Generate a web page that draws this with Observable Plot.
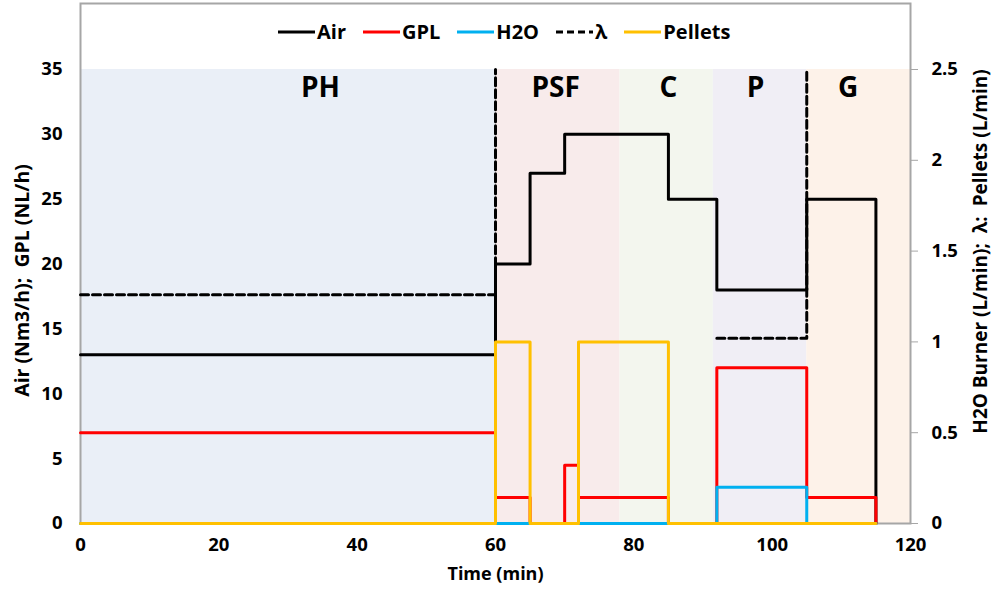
<!DOCTYPE html>
<html>
<head>
<meta charset="utf-8">
<script src="https://cdn.jsdelivr.net/npm/d3@7"></script>
<script src="https://cdn.jsdelivr.net/npm/@observablehq/plot@0.6"></script>
<style>
  body { margin: 0; background: #fff; font-family: "Open Sans", sans-serif; }
  #wrap { position: relative; width: 992px; height: 592px; }
  #legend { position: absolute; left: 278px; top: 18px; display: flex; align-items: center;
            font-family: "Open Sans", sans-serif; font-weight: 700; font-size: 20px; line-height: 28px; color: #000; }
  #legend .item { display: flex; align-items: center; margin-right: 17px; }
  #legend svg { display: block; margin-right: 2px; }
  #chart svg { display: block; }
</style>
</head>
<body>
<div id="wrap">
  <div id="chart"></div>
  <div id="legend"></div>
</div>
<script>
// ---- data ----
const phaseNames   = ["PH", "PSF", "C", "P", "G"];
const phaseStart   = [0, 60, 78, 91.5, 105];
const phaseEnd     = [60, 78, 91.5, 105, 120];
const phaseLabelX  = [34.7, 68.7, 85, 97.6, 111];
const phaseColors  = ["#EAEFF7", "#F8EBEB", "#F3F6EE", "#F0EEF5", "#FDF2E9"];

const airTime      = [0, 60, 65, 70, 85, 92, 105, 115];
const airValue     = [13, 20, 27, 30, 25, 18, 25, 0];          // Nm3/h (left axis)
const gplTime      = [0, 60, 65, 70, 72, 85, 92, 105, 115];
const gplValue     = [7, 2, 0, 4.5, 2, 0, 12, 2, 0];            // NL/h (left axis)
const h2oTime      = [0, 92, 105, 115];
const h2oValue     = [0, 0.2, 0, 0];                            // L/min (right axis)
const lambdaTime   = [0, 60, 92, 105];
const lambdaValue  = [1.26, 2.5, 1.02, 2.5];                    // right axis
const lambdaSeg    = [1, 1, 2, 2];
const pelletsTime  = [0, 60, 65, 72, 85, 115];
const pelletsValue = [0, 1, 0, 1, 0, 0];                        // L/min (right axis)

const leftTicks  = [0, 5, 10, 15, 20, 25, 30, 35];
const rightTicks = [0, 0.5, 1, 1.5, 2, 2.5];
const xTicks     = [0, 20, 40, 60, 80, 100, 120];

const legendNames  = ["Air", "GPL", "H2O", "\u03bb", "Pellets"];
const legendColors = ["#000000", "#FF0000", "#00B0F0", "#000000", "#FFC000"];
const legendDash   = [null, null, null, "7,4", null];

// ---- build ----
const leftMax = 35, rightMax = 2.5, ratio = leftMax / rightMax;
const toRows = (t, v, extra) => t.map((d, i) => ({t: d, v: v[i], s: extra ? extra[i] : 1}));
const phases = phaseNames.map((n, i) => ({name: n, start: phaseStart[i], end: phaseEnd[i], lx: phaseLabelX[i], color: phaseColors[i]}));
const air = toRows(airTime, airValue);
const gpl = toRows(gplTime, gplValue);
const h2o = toRows(h2oTime, h2oValue);
const lam = toRows(lambdaTime, lambdaValue, lambdaSeg);
const pel = toRows(pelletsTime, pelletsValue);

const font = "'Open Sans', sans-serif";
const grey = "#A6A6A6";
const sw = 3;
const tickFont = 18.5;

const chart = Plot.plot({
  width: 992, height: 592,
  marginLeft: 80, marginRight: 82, marginTop: 3, marginBottom: 69,
  x: {domain: [0, 120]},
  y: {domain: [0, leftMax * 520 / 454]},
  style: {fontFamily: font, fontSize: "19px", fontWeight: "700", color: "#000", background: "#fff"},
  marks: [
    Plot.rect(phases, {x1: "start", x2: "end", y1: 0, y2: leftMax, fill: "color"}),
    Plot.text(phases, {x: "lx", y: 33.55, text: "name", fontSize: 28, fontWeight: 700, fill: "#000"}),
    Plot.frame({stroke: grey, strokeWidth: 2}),
    Plot.axisY(leftTicks, {anchor: "left", tickSize: 0, tickPadding: 18, label: null, fill: "#000", fontSize: tickFont, fontWeight: 700}),
    Plot.axisY(rightTicks.map(d => d * ratio), {anchor: "right", tickSize: 7, tickPadding: 14, stroke: grey, label: null, fill: "#000", fontSize: tickFont, fontWeight: 700,
      tickFormat: d => d3.format("~g")(Math.round(d / ratio * 10) / 10)}),
    Plot.axisX(xTicks, {tickSize: 0, tickPadding: 14, label: null, fill: "#000", fontSize: tickFont, fontWeight: 700}),
    Plot.text(["Air (Nm3/h);\u00a0 GPL (NL/h)"], {frameAnchor: "left", textAnchor: "middle", rotate: -90, dx: -58, dy: 17, fontSize: 19.5, fontWeight: 700, fill: "#000"}),
    Plot.text(["H2O Burner (L/min);\u00a0 \u03bb:\u00a0 Pellets (L/min)"], {frameAnchor: "right", textAnchor: "middle", rotate: -90, dx: 70, dy: -12, fontSize: 19, fontWeight: 700, fill: "#000"}),
    Plot.text(["Time (min)"], {frameAnchor: "bottom", dy: 56, fontSize: 18, fontWeight: 700, fill: "#000"}),
    Plot.line(air, {x: "t", y: "v", curve: "step-after", stroke: "#000", strokeWidth: sw}),
    Plot.line(lam, {x: "t", y: d => d.v * ratio, z: "s", curve: "step-after", stroke: "#000", strokeWidth: sw, strokeDasharray: "8,4"}),
    Plot.line(gpl, {x: "t", y: "v", curve: "step-after", stroke: "#FF0000", strokeWidth: sw}),
    Plot.line(h2o, {x: "t", y: d => d.v * ratio, curve: "step-after", stroke: "#00B0F0", strokeWidth: sw}),
    Plot.line(pel, {x: "t", y: d => d.v * ratio, curve: "step-after", stroke: "#FFC000", strokeWidth: sw})
  ]
});
document.getElementById("chart").appendChild(chart);

// ---- legend ----
const legend = document.getElementById("legend");
legendNames.forEach((name, i) => {
  const item = document.createElement("div");
  item.className = "item";
  const dash = legendDash[i] ? ` stroke-dasharray="${legendDash[i]}"` : "";
  item.innerHTML = `<svg width="37" height="10"><line x1="0" x2="37" y1="5" y2="5" stroke="${legendColors[i]}" stroke-width="3"${dash}/></svg><span>${name}</span>`;
  legend.appendChild(item);
});
</script>
</body>
</html>
